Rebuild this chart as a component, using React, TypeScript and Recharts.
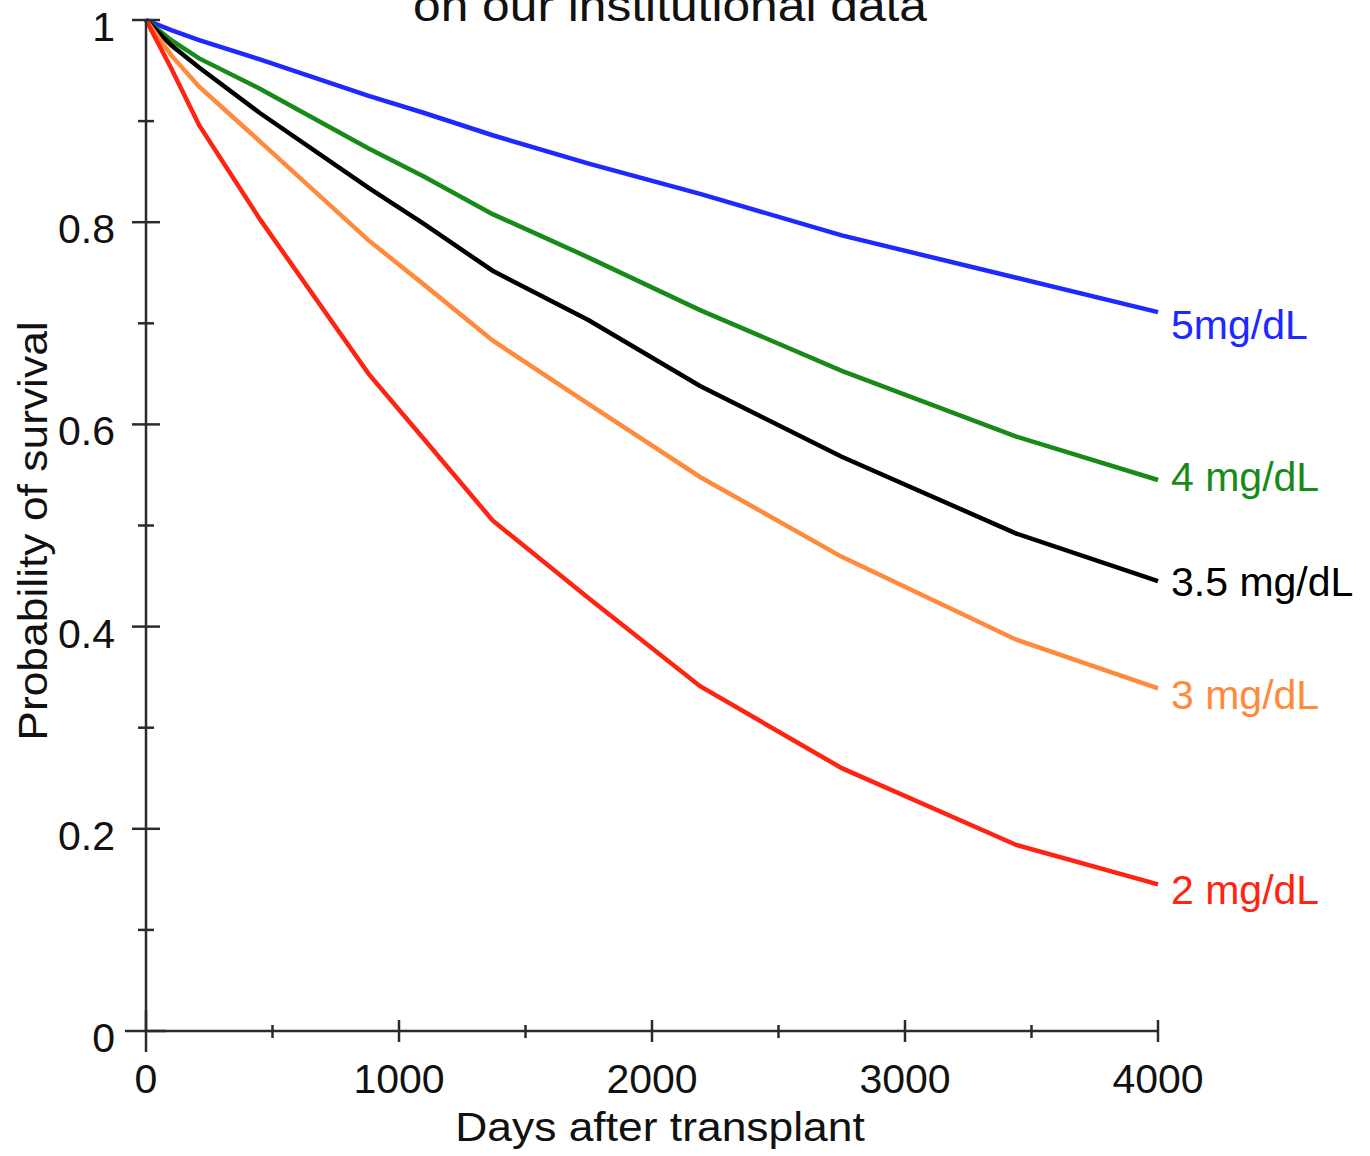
import React from 'react';
import { LineChart, Line, XAxis, YAxis } from 'recharts';

// days after transplant where the curves were read
const days = [0, 100, 210, 450, 880, 1100, 1370, 1750, 2190, 2750, 3440, 4000];

const survival5 = [1, 0.99, 0.98, 0.961, 0.925, 0.908, 0.886, 0.858, 0.828, 0.787, 0.745, 0.711];
const survival4 = [1, 0.98, 0.962, 0.932, 0.873, 0.845, 0.808, 0.765, 0.713, 0.653, 0.588, 0.545];
const survival35 = [1, 0.975, 0.953, 0.908, 0.834, 0.798, 0.752, 0.703, 0.638, 0.568, 0.492, 0.445];
const survival3 = [1, 0.965, 0.934, 0.88, 0.782, 0.738, 0.683, 0.62, 0.548, 0.469, 0.387, 0.339];
const survival2 = [1, 0.952, 0.896, 0.803, 0.65, 0.585, 0.505, 0.428, 0.341, 0.26, 0.184, 0.145];

const seriesNames = ['5mg/dL', '4 mg/dL', '3.5 mg/dL', '3 mg/dL', '2 mg/dL'];

const xTicks = [0, 500, 1000, 1500, 2000, 2500, 3000, 3500, 4000];
const yTicks = [0, 0.1, 0.2, 0.3, 0.4, 0.5, 0.6, 0.7, 0.8, 0.9, 1];

const FONT = '"Liberation Sans", Arial, sans-serif';
const AXIS = '#2b2b2b';

const series = [
  { key: 's5', name: seriesNames[0], values: survival5, color: '#1e28ff', dy: 27 },
  { key: 's4', name: seriesNames[1], values: survival4, color: '#178a17', dy: 11 },
  { key: 's35', name: seriesNames[2], values: survival35, color: '#000000', dy: 15 },
  { key: 's3', name: seriesNames[3], values: survival3, color: '#ff8a3c', dy: 21 },
  { key: 's2', name: seriesNames[4], values: survival2, color: '#ff2412', dy: 20 },
];

const chartData = days.map((d, i) => {
  const row: Record<string, number> = { day: d };
  series.forEach((s) => {
    row[s.key] = s.values[i];
  });
  return row;
});

const YTick = (props: any) => {
  const { x, y, payload } = props;
  const tenths = Math.round(payload.value * 10);
  const major = tenths % 2 === 0;
  const zero = tenths === 0;
  const left = zero ? 21 : major ? 14 : 8;
  const right = zero ? 20 : major ? 14 : 8;
  const label = tenths === 10 ? '1' : tenths === 0 ? '0' : String(payload.value.toFixed(1));
  return (
    <g>
      <line x1={x - left} x2={x + right} y1={y} y2={y} stroke={AXIS} strokeWidth={2.5} />
      {major && (
        <text x={x - 31} y={y + 21} textAnchor="end" fontSize={41} fontFamily={FONT} fill="#111">
          {label}
        </text>
      )}
    </g>
  );
};

const XTick = (props: any) => {
  const { x, y, payload } = props;
  const v = payload.value as number;
  const major = v % 1000 === 0;
  const zero = v === 0;
  const up = zero ? 21 : major ? 11 : 6;
  const down = zero ? 21 : major ? 11 : 7;
  return (
    <g>
      <line x1={x} x2={x} y1={y - up} y2={y + down} stroke={AXIS} strokeWidth={2.5} />
      {major && (
        <text x={x} y={y + 62} textAnchor="middle" fontSize={41} fontFamily={FONT} fill="#111">
          {v}
        </text>
      )}
    </g>
  );
};

const endLabel = (color: string, name: string, dy: number) => (p: any) => {
  if (p.index !== days.length - 1) return <g />;
  return (
    <text x={p.x + 13} y={p.y + dy} fill={color} fontSize={41} fontFamily={FONT}>
      {name}
    </text>
  );
};

const App: React.FC = () => {
  return (
    <div style={{ position: 'absolute', left: 0, top: 0, width: 1370, height: 1156, background: '#fff' }}>
      <LineChart
        width={1370}
        height={1156}
        data={chartData}
        margin={{ top: 20, right: 212, left: 66, bottom: 65 }}
      >
        <XAxis
          dataKey="day"
          type="number"
          domain={[0, 4000]}
          ticks={xTicks}
          interval={0}
          height={60}
          tickSize={0}
          tickMargin={0}
          tickLine={false}
          axisLine={{ stroke: AXIS, strokeWidth: 2.5 }}
          tick={<XTick />}
        />
        <YAxis
          type="number"
          domain={[0, 1]}
          ticks={yTicks}
          interval={0}
          width={80}
          tickSize={0}
          tickMargin={0}
          tickLine={false}
          axisLine={{ stroke: AXIS, strokeWidth: 2.5 }}
          tick={<YTick />}
        />
        {series.map((s) => (
          <Line
            key={s.key}
            type="linear"
            dataKey={s.key}
            stroke={s.color}
            strokeWidth={4.5}
            dot={false}
            activeDot={false}
            isAnimationActive={false}
            label={endLabel(s.color, s.name, s.dy)}
          />
        ))}
      </LineChart>
      <svg
        width={1370}
        height={1156}
        style={{ position: 'absolute', left: 0, top: 0, pointerEvents: 'none' }}
      >
        {/* title is cropped at the top edge, as in the source figure */}
        <g transform="translate(670,21) scale(1.13,1)">
          <text x={0} y={0} textAnchor="middle" fontSize={44} fontFamily={FONT} fill="#111">
            on our institutional data
          </text>
        </g>
        <g transform="translate(660,1141) scale(1.11,1)">
          <text x={0} y={0} textAnchor="middle" fontSize={40} fontFamily={FONT} fill="#111">
            Days after transplant
          </text>
        </g>
        <g transform="translate(47,531) rotate(-90) scale(1.11,1)">
          <text x={0} y={0} textAnchor="middle" fontSize={40} fontFamily={FONT} fill="#111">
            Probability of survival
          </text>
        </g>
      </svg>
    </div>
  );
};

export default App;
